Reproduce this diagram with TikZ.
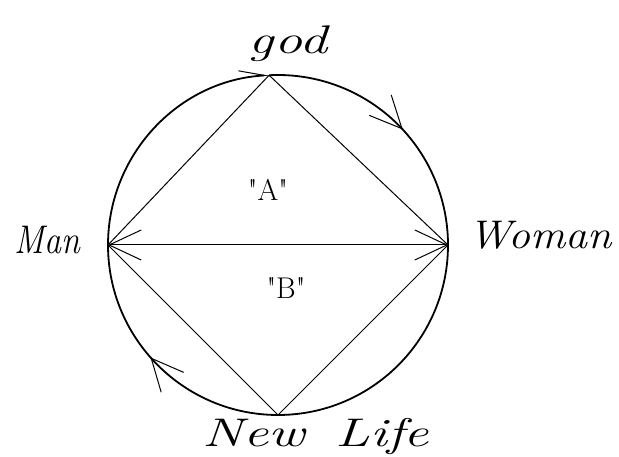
\documentclass[tikz,border=0pt]{standalone}
\usetikzlibrary{arrows.meta,decorations.markings}

\tikzset{
  rim/.style={line width=1.8pt},
  side/.style={line width=1pt},
  hand/.tip={Straight Barb[length=32pt,width=30pt,line width=1pt]},
  handhalf/.tip={Straight Barb[harpoon,length=26pt,width=12pt,line width=1pt]},
  midtip/.style={postaction={decorate},
    decoration={markings,mark=at position #1 with {\arrow{hand}}}},
  word/.style={font=\fontsize{40}{44}\selectfont\itshape, inner sep=0pt, anchor=base},
  tag/.style={font=\fontsize{30}{34}\selectfont, inner sep=0pt}
}

\begin{document}
\begin{tikzpicture}[x=1pt, y=1pt]
    % 1. Khung hinh
    \useasboundingbox (0,0) rectangle (619,457);

    % 2. Tam duong tron va bon diem tren vong
    \coordinate (o) at (278,212);
    \coordinate (god) at ([shift={(93:170)}]o);
    \coordinate (woman) at ([shift={(0:170)}]o);
    \coordinate (newlife) at ([shift={(-90:170)}]o);
    \coordinate (man) at ([shift={(180:170)}]o);

    % 3. Vong tron theo chieu kim dong ho
    \draw[rim, midtip=0.54] (god) arc[start angle=93, end angle=0, radius=170];
    \draw[rim] (woman) arc[start angle=0, end angle=-90, radius=170];
    \draw[rim, midtip=0.54] (newlife) arc[start angle=270, end angle=180, radius=170];
    \draw[rim, -{handhalf}] (man) arc[start angle=180, end angle=93, radius=170];

    % 4. Hinh thoi ben trong
    \draw[side] (god) -- (man);
    \draw[side] (god) -- (woman);
    \draw[side] (newlife) -- (man);
    \draw[side] (newlife) -- (woman);
    \draw[side, {hand}-{hand}] (man) -- (woman);

    % 5. Nhan
    \node[word, xscale=1.4] (godlbl) at (288,403) {god};
    \node[word, xscale=0.85] (manlbl) at (47,203) {Man};
    \node[word, xscale=1.1] (womanlbl) at (540,208) {Woman};
    \node[word, xscale=1.4] (newlifelbl) at (316,10) {New\hspace{8pt} Life};
    \node[tag] (a) at (268,267) {\textquotedbl A\textquotedbl};
    \node[tag] (b) at (286,169) {\textquotedbl B\textquotedbl};
\end{tikzpicture}
\end{document}
